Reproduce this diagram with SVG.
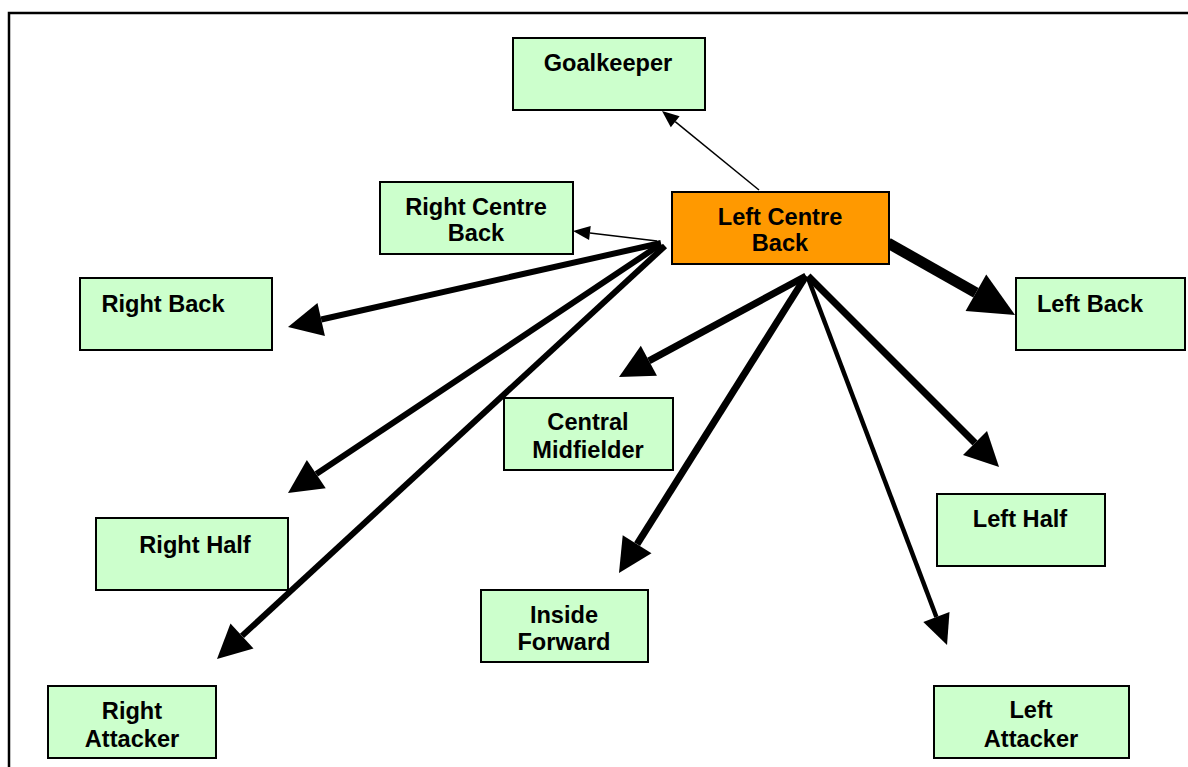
<svg xmlns="http://www.w3.org/2000/svg" width="1188" height="767" viewBox="0 0 1188 767">
<style>
.box{fill:#CCFFCC;stroke:#000;stroke-width:2}
.hub{fill:#FF9900;stroke:#000;stroke-width:2}
text{font-family:"Liberation Sans",Arial,sans-serif;font-weight:bold;font-size:23.6px;fill:#000;text-anchor:middle}
.c{stroke:#000;fill:none;stroke-linecap:butt}
</style>
<defs>
<marker id="thin" markerUnits="userSpaceOnUse" markerWidth="20" markerHeight="16" refX="0" refY="8" orient="auto" overflow="visible"><path d="M0,1 L17,8 L0,15 Z" fill="#000"/></marker>
<marker id="mid" markerUnits="userSpaceOnUse" markerWidth="36" markerHeight="34" refX="0" refY="17" orient="auto" overflow="visible"><path d="M0,0 L34,17 L0,34 Z" fill="#000"/></marker>
<marker id="big" markerUnits="userSpaceOnUse" markerWidth="46" markerHeight="42" refX="0" refY="21" orient="auto" overflow="visible"><path d="M0,0 L45,21 L0,42 Z" fill="#000"/></marker>
<marker id="sm" markerUnits="userSpaceOnUse" markerWidth="32" markerHeight="28" refX="0" refY="14" orient="auto" overflow="visible"><path d="M0,0 L30,14 L0,28 Z" fill="#000"/></marker>
</defs>
<rect x="0" y="0" width="1188" height="767" fill="#fff"/>
<path d="M9,767 L9,13 L1188,13" fill="none" stroke="#000" stroke-width="2.5"/>
<g id="connectors">
<line class="c" x1="759" y1="190" x2="675.2" y2="121.7" stroke-width="1.5" marker-end="url(#thin)"/>
<line class="c" x1="657" y1="241" x2="589.9" y2="233" stroke-width="1.5" marker-end="url(#thin)"/>
<line class="c" x1="661" y1="243" x2="321.2" y2="319.5" stroke-width="6" marker-end="url(#mid)"/>
<line class="c" x1="661" y1="244" x2="316.3" y2="474.1" stroke-width="6" marker-end="url(#mid)"/>
<line class="c" x1="665" y1="246" x2="242" y2="635.9" stroke-width="6" marker-end="url(#mid)"/>
<line class="c" x1="888" y1="243" x2="975.9" y2="292.8" stroke-width="11" marker-end="url(#big)"/>
<line class="c" x1="806" y1="276" x2="648.9" y2="360.8" stroke-width="7" marker-end="url(#mid)"/>
<line class="c" x1="806" y1="276" x2="637.1" y2="544.2" stroke-width="7" marker-end="url(#mid)"/>
<line class="c" x1="808" y1="276" x2="975" y2="443" stroke-width="7" marker-end="url(#mid)"/>
<line class="c" x1="808" y1="278" x2="936.4" y2="617" stroke-width="4.5" marker-end="url(#sm)"/>
</g>
<g id="goalkeeper"><rect class="box" x="513" y="38" width="192" height="72"/><text x="608" y="71">Goalkeeper</text></g>
<g id="right-centre-back"><rect class="box" x="380" y="182" width="193" height="72"/><text x="476" y="215">Right Centre</text><text x="476" y="241">Back</text></g>
<g id="left-centre-back"><rect class="hub" x="672" y="192" width="217" height="72"/><text x="780" y="225">Left Centre</text><text x="780" y="251">Back</text></g>
<g id="right-back"><rect class="box" x="80" y="278" width="192" height="72"/><text x="163" y="312">Right Back</text></g>
<g id="left-back"><rect class="box" x="1016" y="278" width="169" height="72"/><text x="1090" y="312">Left Back</text></g>
<g id="central-midfielder"><rect class="box" x="504" y="398" width="169" height="72"/><text x="588" y="430">Central</text><text x="588" y="458">Midfielder</text></g>
<g id="left-half"><rect class="box" x="937" y="494" width="168" height="72"/><text x="1020" y="527">Left Half</text></g>
<g id="right-half"><rect class="box" x="96" y="518" width="192" height="72"/><text x="195" y="553">Right Half</text></g>
<g id="inside-forward"><rect class="box" x="481" y="590" width="167" height="72"/><text x="564" y="623">Inside</text><text x="564" y="650">Forward</text></g>
<g id="right-attacker"><rect class="box" x="48" y="686" width="168" height="72"/><text x="132" y="719">Right</text><text x="132" y="747">Attacker</text></g>
<g id="left-attacker"><rect class="box" x="934" y="686" width="195" height="72"/><text x="1031" y="718">Left</text><text x="1031" y="747">Attacker</text></g>
</svg>
